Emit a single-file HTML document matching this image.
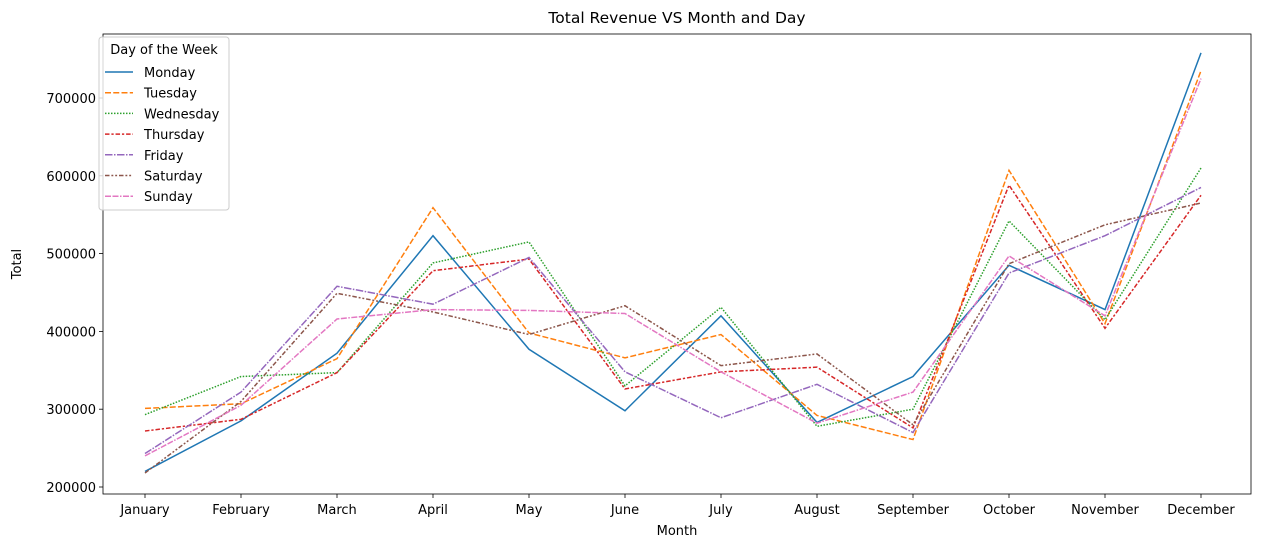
<!DOCTYPE html>
<html><head><meta charset="utf-8"><style>
body{margin:0;background:#fff;font-family:"Liberation Sans","DejaVu Sans",sans-serif}
svg text{font-family:"DejaVu Sans","Liberation Sans",sans-serif;font-size:13px;fill:#000}
</style></head><body>
<svg id="c" width="1264" height="547"></svg>
<script>
const months=["January","February","March","April","May","June","July","August","September","October","November","December"];
const days=["Monday","Tuesday","Wednesday","Thursday","Friday","Saturday","Sunday"];
const monday=[220000,285000,372000,523000,377000,298000,420000,283000,342000,485000,428000,758000];
const tuesday=[301000,307000,365000,559000,398000,366000,396000,292000,261000,607000,410000,735000];
const wednesday=[293000,342000,347000,488000,515000,330000,431000,278000,300000,542000,415000,610000];
const thursday=[272000,287000,347000,478000,493000,326000,348000,354000,276000,588000,404000,575000];
const friday=[243000,322000,458000,435000,495000,348000,289000,332000,270000,475000,523000,585000];
const saturday=[218000,310000,449000,425000,396000,433000,356000,371000,280000,487000,537000,565000];
const sunday=[240000,305000,416000,428000,427000,423000,348000,282000,322000,497000,420000,725000];
const yTicks=[200000,300000,400000,500000,600000,700000];
const series=[monday,tuesday,wednesday,thursday,friday,saturday,sunday];
const colors=["#1f77b4","#ff7f0e","#2ca02c","#d62728","#9467bd","#8c564b","#e377c2"];
const dashes=["","6,2.25","1.5,1.5","4.5,1.9,2.25,1.9","7.5,1.5,1.5,1.5","4.5,1.9,1.9,1.9,1.9,1.9","6,1.5,6,1.5,1.5,1.5"];
const L=103,R=1251,T=34,B=494;
const x=i=>145+i*96;
const y=v=>487-(v-200000)*0.000778;
const s=document.getElementById('c');
const NS="http://www.w3.org/2000/svg";
function mk(t,a,p){const e=document.createElementNS(NS,t);for(const k in a)e.setAttribute(k,a[k]);(p||s).appendChild(e);return e;}
let fr=mk('rect',{x:L,y:T,width:R-L,height:B-T,fill:'none',stroke:'#000','stroke-width':0.8});


months.forEach((m,i)=>{
 mk('line',{x1:x(i),x2:x(i),y1:B,y2:B+4,stroke:'#000','stroke-width':0.8});
 let t=mk('text',{x:x(i),y:B+20,'text-anchor':'middle'});t.textContent=m;
 
 
});
yTicks.forEach(v=>{
 mk('line',{x1:L-4,x2:L,y1:y(v),y2:y(v),stroke:'#000','stroke-width':0.8});
 let t=mk('text',{x:L-7,y:y(v)+5,'text-anchor':'end'});t.textContent=v;
 
 
});
let tt=mk('text',{x:(L+R)/2,y:23,'text-anchor':'middle',style:'font-size:15.5px'});tt.textContent="Total Revenue VS Month and Day";


let xt=mk('text',{x:(L+R)/2,y:535,'text-anchor':'middle'});xt.textContent="Month";


let yt=mk('text',{x:21,y:(T+B)/2,'text-anchor':'middle',transform:`rotate(-90 21 ${(T+B)/2})`});yt.textContent="Total";


series.forEach((d,k)=>{
 let p=mk('polyline',{points:d.map((v,i)=>x(i)+','+y(v)).join(' '),fill:'none',stroke:colors[k],'stroke-width':1.5,'stroke-dasharray':dashes[k]});
 
 
});
let lg=mk('rect',{x:99,y:37,width:130,height:173,rx:3,fill:'#fff','fill-opacity':0.8,stroke:'#ccc'});


let lt=mk('text',{x:164,y:54,'text-anchor':'middle'});lt.textContent="Day of the Week";


days.forEach((d,k)=>{
 const yy=72+k*20.7;
 mk('line',{x1:105,x2:133,y1:yy,y2:yy,stroke:colors[k],'stroke-width':1.5,'stroke-dasharray':dashes[k]});
 let t=mk('text',{x:144,y:yy+5});t.textContent=d;
 
 
});
</script></body></html>
